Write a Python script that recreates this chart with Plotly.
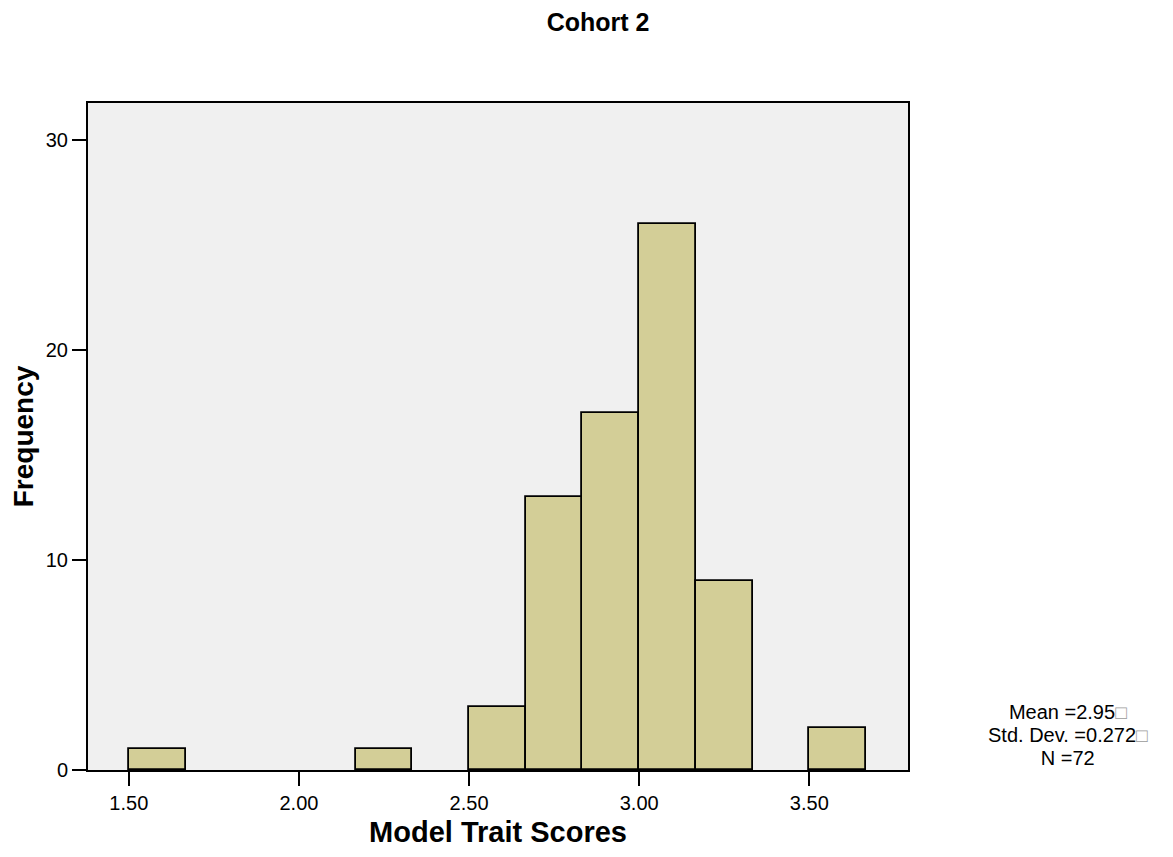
import plotly.graph_objects as go

# Histogram data (bin left edges, width 1/6)
bin_starts = [1.5, 1.6667, 1.8333, 2.0, 2.1667, 2.3333, 2.5, 2.6667, 2.8333, 3.0, 3.1667, 3.3333, 3.5]
counts = [1, 0, 0, 0, 1, 0, 3, 13, 17, 26, 9, 0, 2]
bin_width = 1 / 6
x_ticks = [1.5, 2.0, 2.5, 3.0, 3.5]
x_tick_labels = ["1.50", "2.00", "2.50", "3.00", "3.50"]
y_ticks = [0, 10, 20, 30]
BOX = '<span style="color:#9a9a9a;font-size:19px">\u25a1</span>'
stats_lines = ["Mean =2.95" + BOX, "Std. Dev. =0.272" + BOX, "N =72"]

FONT = "Liberation Sans, Arial, sans-serif"

fig = go.Figure()
fig.add_trace(go.Bar(
    x=bin_starts,
    y=counts,
    width=[bin_width] * len(bin_starts),
    offset=0,
    marker=dict(color="#D3CE97",
                line=dict(color="black", width=[1.8 if c > 0 else 0 for c in counts])),
    showlegend=False,
    hoverinfo="x+y",
))

fig.update_layout(
    width=1173,
    height=857,
    margin=dict(l=77, r=273, t=95, b=95),
    paper_bgcolor="white",
    plot_bgcolor="#F0F0F0",
    font=dict(family=FONT, color="black"),
    title=dict(text="<b>Cohort 2</b>", x=0.503, xanchor="center", y=1 - 14 / 857, yanchor="middle",
               font=dict(size=25, family=FONT)),
    bargap=0,
    xaxis=dict(
        range=[1.38, 3.79],
        tickvals=x_ticks,
        ticktext=x_tick_labels,
        ticks="outside",
        ticklen=14,
        tickwidth=2,
        tickcolor="black",
        showgrid=False,
        zeroline=False,
        showline=True,
        linecolor="black",
        linewidth=2,
        mirror=True,
        tickfont=dict(size=20, family=FONT),
        title=dict(text="<b>Model Trait Scores</b>", font=dict(size=29, family=FONT), standoff=9),
    ),
    yaxis=dict(
        range=[0, 31.76],
        tickvals=y_ticks,
        ticks="outside",
        ticklen=14,
        tickwidth=2,
        tickcolor="black",
        showgrid=False,
        zeroline=False,
        showline=True,
        linecolor="black",
        linewidth=2,
        mirror=True,
        tickfont=dict(size=20, family=FONT),
        title=dict(text="<b>Frequency</b>", font=dict(size=28, family=FONT), standoff=6),
    ),
)

stats_text = "<br>".join('<span style="font-size:20px">' + s + "</span>" for s in stats_lines)
fig.add_annotation(
    text=stats_text,
    xref="paper", yref="paper",
    x=1.1956, y=0.0525,
    xanchor="center", yanchor="middle",
    showarrow=False,
    align="center",
    font=dict(size=17.8, family=FONT, color="black"),
)

fig.write_html("out.html")
